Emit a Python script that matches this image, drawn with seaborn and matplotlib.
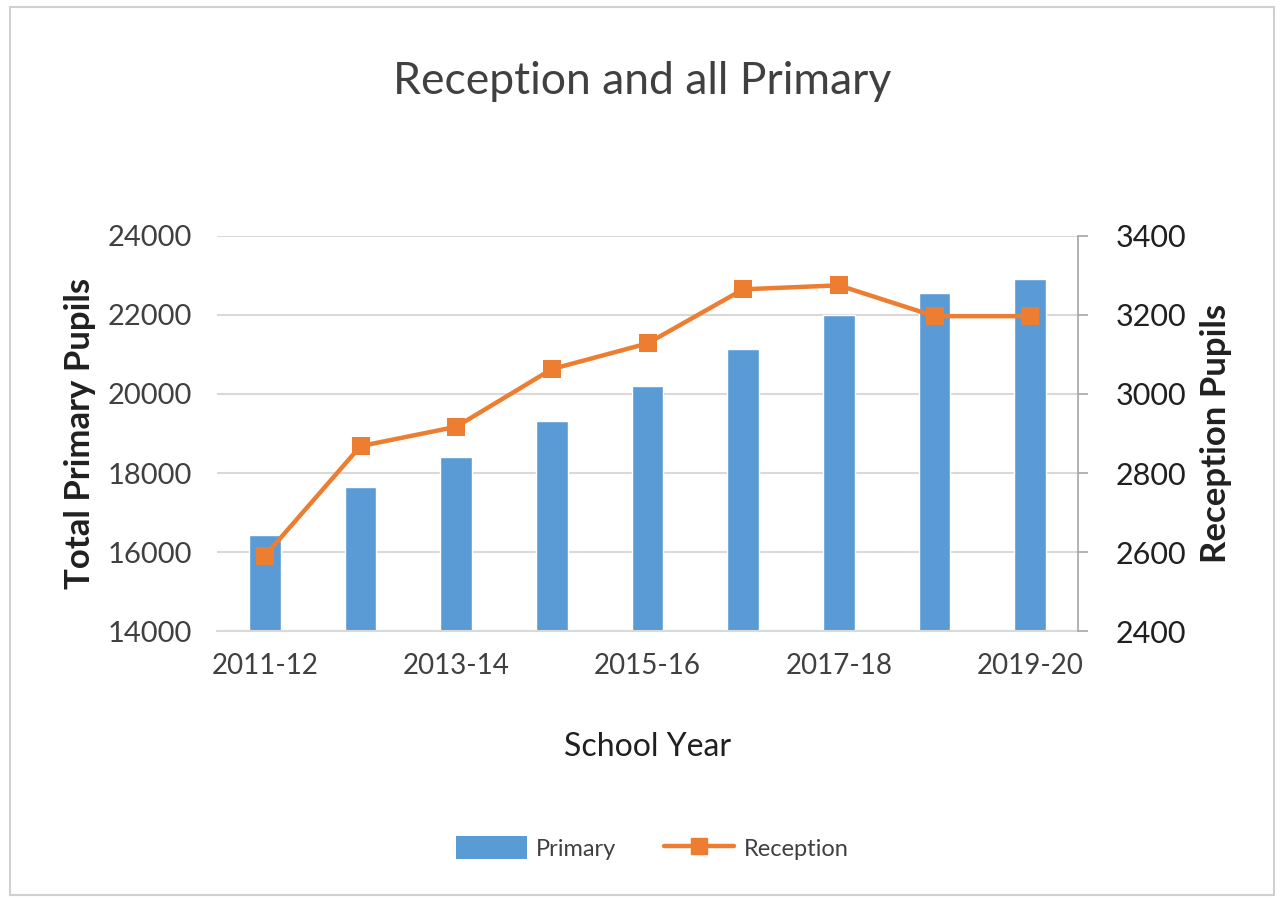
import matplotlib
matplotlib.use('Agg')
import matplotlib.pyplot as plt
import seaborn as sns
import pandas as pd
from matplotlib.patches import Patch, Rectangle
from matplotlib.lines import Line2D

# data
years = ['2011-12', '2012-13', '2013-14', '2014-15', '2015-16',
         '2016-17', '2017-18', '2018-19', '2019-20']
primary = [16430, 17650, 18400, 19320, 20190, 21140, 22000, 22560, 22910]
reception = [2590, 2868, 2917, 3063, 3128, 3265, 3275, 3197, 3197]

blue = '#5B9BD5'
orange = '#ED7D31'
grid_c = '#D9D9D9'
text_c = '#404040'

sns.set_style('white')
plt.rcParams['font.family'] = ['Lato', 'DejaVu Sans']

df = pd.DataFrame({'year': years, 'primary': primary,
                   'reception': reception, 'pos': range(len(years))})

fig = plt.figure(figsize=(12.84, 9.02), dpi=100)
ax = fig.add_axes([0.169, 0.3004, 0.6706, 0.438])

sns.barplot(data=df, x='year', y='primary', color=blue, width=0.33,
            saturation=1, ax=ax, zorder=2)
ax.set_ylim(14000, 24000)
ax.set_yticks(range(14000, 24001, 2000))
ax.set_xlim(-0.5, 8.5)
ax.grid(axis='y', color=grid_c, linewidth=1.5, zorder=0)
ax.set_axisbelow(True)
for s in ['top', 'right', 'left']:
    ax.spines[s].set_visible(False)
ax.spines['bottom'].set_color(grid_c)
ax.spines['bottom'].set_linewidth(1.5)
ax.set_xticks(range(0, 9, 2))
ax.set_xticklabels(years[::2])
ax.tick_params(axis='both', length=0, labelsize=20, colors=text_c, pad=16)
ax.tick_params(axis='y', pad=18, labelsize=21)
ax.set_ylabel('Total Primary Pupils', fontsize=25, fontweight='bold',
              color='#202020', labelpad=8)
ax.set_xlabel('School Year', fontsize=23, color='#202020', labelpad=38)

ax2 = ax.twinx()
sns.lineplot(data=df, x='pos', y='reception', color=orange, linewidth=3.2,
             marker='s', markersize=13, markeredgewidth=0, ax=ax2, zorder=3)
ax2.set_ylim(2400, 3400)
ax2.set_yticks(range(2400, 3401, 200))
ax2.set_xlim(-0.5, 8.5)
for s in ['top', 'left', 'bottom']:
    ax2.spines[s].set_visible(False)
ax2.spines['right'].set_color('#A6A6A6')
ax2.spines['right'].set_linewidth(1.2)
ax2.tick_params(axis='y', length=7, width=1.2, color='#A6A6A6',
                labelsize=22, labelcolor='#202020', pad=20)
ax2.set_ylabel('Reception Pupils', fontsize=25, fontweight='bold',
               color='#202020', labelpad=10)
ax2.set_xlabel('')

fig.suptitle('Reception and all Primary', fontsize=32, color=text_c,
             y=0.932)

handles = [Patch(facecolor=blue, edgecolor='none'),
           Line2D([0], [0], color=orange, linewidth=3.2, marker='s',
                  markersize=11)]
fig.legend(handles, ['Primary', 'Reception'], loc='center',
           bbox_to_anchor=(0.508, 0.06), ncol=2, frameon=False,
           fontsize=17, labelcolor=text_c, handlelength=3.0,
           handleheight=1.1, columnspacing=2.0, handletextpad=0.4)

fig.patches.append(Rectangle((0.008, 0.008), 0.984, 0.984, fill=False,
                             edgecolor='#D0D0D0', linewidth=1.5,
                             transform=fig.transFigure))

fig.savefig('out.png', dpi=100)
